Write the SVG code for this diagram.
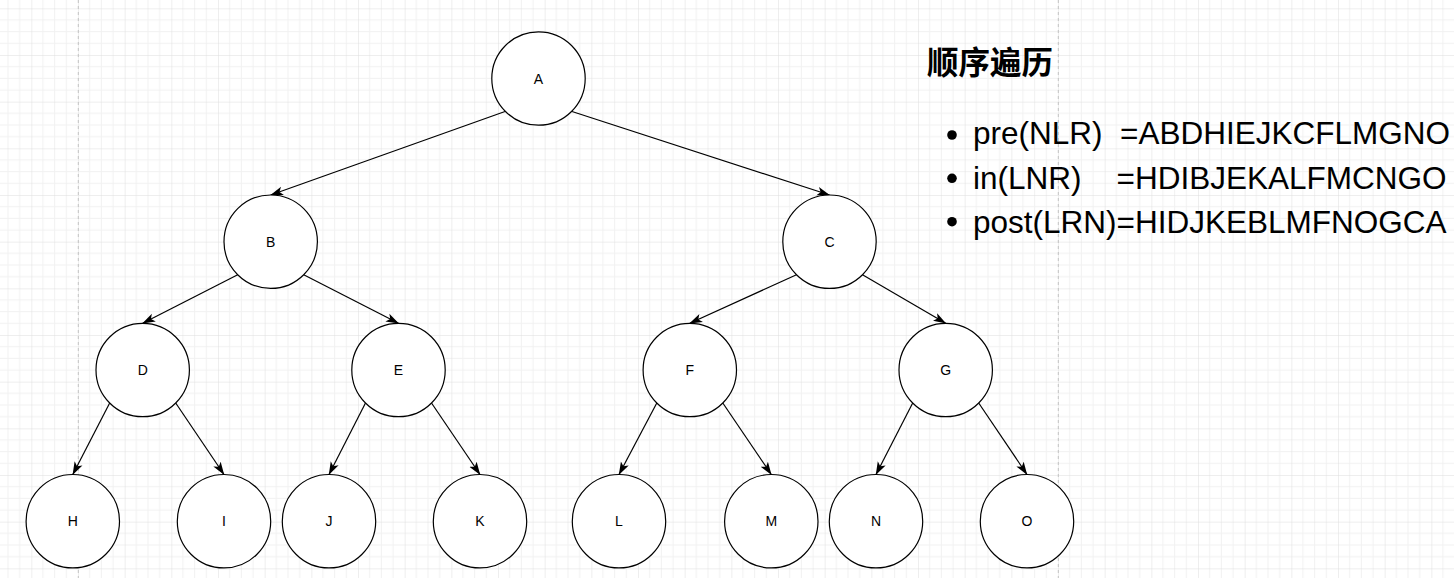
<svg xmlns="http://www.w3.org/2000/svg" width="1454" height="578" viewBox="0 0 1454 578">
<defs>
<pattern id="grid" x="31.33" y="8.33" width="46.667" height="46.667" patternUnits="userSpaceOnUse">
<path d="M11.667,0V46.667M23.333,0V46.667M35,0V46.667M0,11.667H46.667M0,23.333H46.667M0,35H46.667" stroke="#f1f1f1" stroke-width="1" fill="none"/>
<path d="M0,0V46.667M0,0H46.667" stroke="#dedede" stroke-width="1" fill="none"/>
</pattern>
<marker id="arr" markerUnits="userSpaceOnUse" markerWidth="13" markerHeight="10" viewBox="0 0 13 10" refX="12.5" refY="5" orient="auto">
<path d="M0,0.6 L13,5 L0,9.4 L3.2,5 Z" fill="#000"/>
</marker>
</defs>
<style>
.n circle{fill:#fff;stroke:#000;stroke-width:1.2}
.n text{font-family:"Liberation Sans",Arial,sans-serif;font-size:14px;fill:#000;text-anchor:middle}
.e line{stroke:#000;stroke-width:1.2;marker-end:url(#arr)}
.t{font-family:"Liberation Sans",Arial,sans-serif;font-size:31.5px;fill:#000}
</style>
<rect width="1454" height="578" fill="#fff"/>
<rect width="1454" height="578" fill="url(#grid)"/>
<line x1="78.3" y1="0" x2="78.3" y2="578" stroke="#c4c4c4" stroke-dasharray="3,3"/>
<line x1="1058.3" y1="0" x2="1058.3" y2="578" stroke="#c4c4c4" stroke-dasharray="3,3"/>
<g id="edges" class="e">
<line x1="505" y1="111.5" x2="270.7" y2="195"/>
<line x1="572" y1="111.5" x2="829.5" y2="195"/>
<line x1="237.7" y1="274.7" x2="142.7" y2="323.3"/>
<line x1="303.7" y1="274.7" x2="398.5" y2="323.3"/>
<line x1="796.5" y1="274.7" x2="689.8" y2="323.3"/>
<line x1="862.5" y1="274.7" x2="945.7" y2="323.3"/>
<line x1="109.7" y1="403" x2="72.8" y2="474.5"/>
<line x1="175.7" y1="403" x2="224" y2="474.5"/>
<line x1="365.5" y1="403" x2="329" y2="474.5"/>
<line x1="431.5" y1="403" x2="480" y2="474.5"/>
<line x1="656.8" y1="403" x2="619" y2="474.5"/>
<line x1="722.8" y1="403" x2="771.3" y2="474.5"/>
<line x1="912.7" y1="403" x2="876" y2="474.5"/>
<line x1="978.7" y1="403" x2="1027" y2="474.5"/>
</g>
<g id="A" class="n"><circle cx="538.5" cy="78.5" r="46.7"/><text x="538.5" y="83.5">A</text></g>
<g id="B" class="n"><circle cx="270.7" cy="241.7" r="46.7"/><text x="270.7" y="246.7">B</text></g>
<g id="C" class="n"><circle cx="829.5" cy="241.7" r="46.7"/><text x="829.5" y="246.7">C</text></g>
<g id="D" class="n"><circle cx="142.7" cy="370" r="46.7"/><text x="142.7" y="375">D</text></g>
<g id="E" class="n"><circle cx="398.5" cy="370" r="46.7"/><text x="398.5" y="375">E</text></g>
<g id="F" class="n"><circle cx="689.8" cy="370" r="46.7"/><text x="689.8" y="375">F</text></g>
<g id="G" class="n"><circle cx="945.7" cy="370" r="46.7"/><text x="945.7" y="375">G</text></g>
<g id="H" class="n"><circle cx="72.8" cy="521.2" r="46.7"/><text x="72.8" y="526.2">H</text></g>
<g id="I" class="n"><circle cx="224" cy="521.2" r="46.7"/><text x="224" y="526.2">I</text></g>
<g id="J" class="n"><circle cx="329" cy="521.2" r="46.7"/><text x="329" y="526.2">J</text></g>
<g id="K" class="n"><circle cx="480" cy="521.2" r="46.7"/><text x="480" y="526.2">K</text></g>
<g id="L" class="n"><circle cx="619" cy="521.2" r="46.7"/><text x="619" y="526.2">L</text></g>
<g id="M" class="n"><circle cx="771.3" cy="521.2" r="46.7"/><text x="771.3" y="526.2">M</text></g>
<g id="N" class="n"><circle cx="876" cy="521.2" r="46.7"/><text x="876" y="526.2">N</text></g>
<g id="O" class="n"><circle cx="1027" cy="521.2" r="46.7"/><text x="1027" y="526.2">O</text></g>
<g id="traversal">
<text x="927" y="73.5" font-family="'Liberation Sans','Noto Sans CJK SC',sans-serif" font-size="31.5" font-weight="bold" fill="#000">顺序遍历</text>
<circle cx="952" cy="135" r="4.8" fill="#000"/>
<circle cx="952" cy="178.3" r="4.8" fill="#000"/>
<circle cx="952" cy="221.7" r="4.8" fill="#000"/>
<text class="t" x="973" y="144.3">pre(NLR)&#160;&#160;=ABDHIEJKCFLMGNO</text>
<text class="t" x="973" y="188.7">in(LNR)&#160;&#160;&#160;&#160;=HDIBJEKALFMCNGO</text>
<text class="t" x="973" y="233.3">post(LRN)=HIDJKEBLMFNOGCA</text>
</g>
</svg>
